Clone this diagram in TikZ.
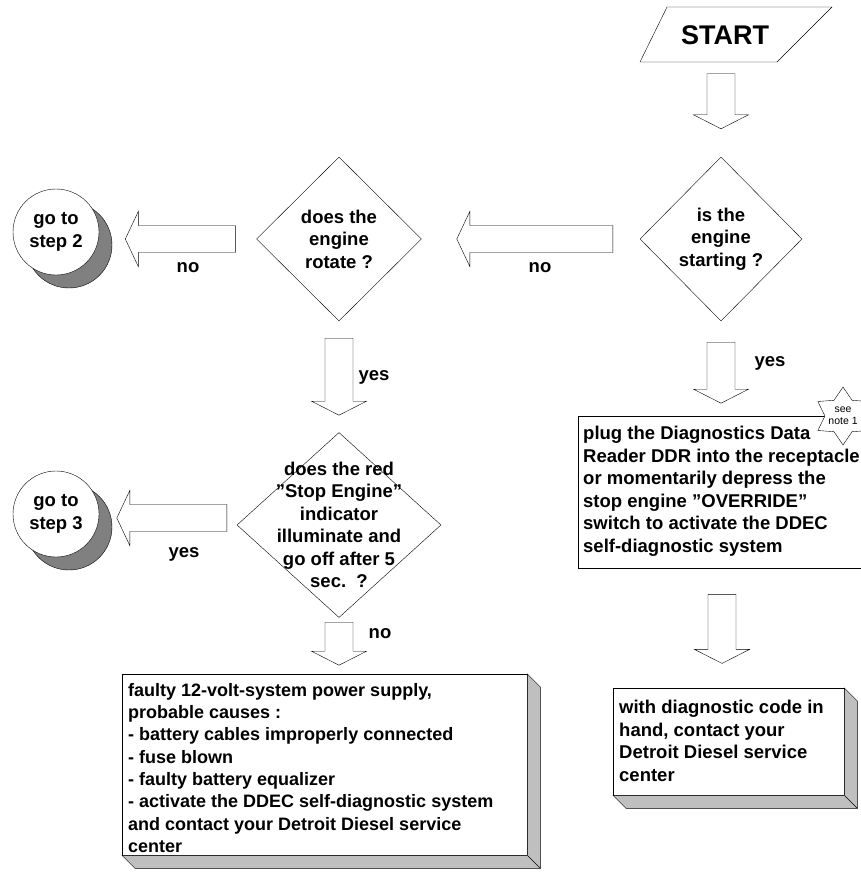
\documentclass[tikz,border=0pt]{standalone}
\usepackage{fontspec}
\setmainfont{Liberation Sans}
\usetikzlibrary{shapes.geometric,calc}

\newcommand\boxshade[1]{%
  \draw[shade] (#1.north east) -- ++(13,13) -- ($(#1.south east)+(13,13)$) -- ($(#1.south west)+(13,13)$) -- (#1.south west) -- (#1.south east) -- cycle;
  \draw (#1.south east) -- ++(13,13);}

\begin{document}
\begin{tikzpicture}[x=1pt,y=-1pt,
  txt/.style={font=\bfseries\fontsize{18.5}{22.5}\selectfont, inner sep=0pt},
  box/.style={draw, fill=white, inner sep=0pt},
  shade/.style={draw, fill=black!25},
  dia/.style={diamond, draw, inner sep=0pt},
  goto/.style={circle, draw, fill=white, minimum size=86, txt, align=center},
  blk/.style={draw, fill=white, line join=miter},
  pics/downarr/.style={code={\draw[blk] (-14,0) -- (14,0) -- (14,#1-14) -- (27.5,#1-14) -- (0,#1) -- (-27.5,#1-14) -- (-14,#1-14) -- cycle;}},
  pics/leftarr/.style={code={\draw[blk] (0,-13.5) -- (0,13.5) -- (-#1+13,13.5) -- (-#1+13,27.5) -- (-#1,0) -- (-#1+13,-27.5) -- (-#1+13,-13.5) -- cycle;}},
]
  \useasboundingbox (0,0) rectangle (861,880);
  \clip (0,0) rectangle (861,880);

  % start
  \draw (640,62) -- (667,7) -- (832,7) -- (777,62) -- cycle;
  \node[txt, font=\bfseries\fontsize{27}{30}\selectfont] (start) at (725,35) {START};

  % questions
  \node[dia, minimum width=162, minimum height=164,
    label={[txt, align=center]center:is the\\engine\\starting ?}] (q1) at (721,239) {};
  \node[dia, minimum width=165, minimum height=164,
    label={[txt, align=center]center:does the\\engine\\rotate ?}] (q2) at (339,239) {};
  \node[dia, minimum width=204, minimum height=185,
    label={[txt, align=center]center:does the red\\"Stop Engine"\\indicator\\illuminate and\\go off after 5\\sec.~~?}] (q3) at (339,525) {};

  % go to
  \draw[fill=black!50] (69,245) circle (43);
  \node[goto] (g2) at (56,232) {go to\\step 2};
  \draw[fill=black!50] (69,527) circle (43);
  \node[goto] (g3) at (56,514) {go to\\step 3};

  % actions
  \node[box, minimum width=300, minimum height=152, anchor=north west] (plug) at (578,416) {};
  \node[txt, anchor=north west, align=left] (plugtext) at ($(plug.north west)+(5,10)$)
    {plug the Diagnostics Data\\Reader DDR into the receptacle\\or momentarily depress the\\stop engine "OVERRIDE"\\switch to activate the DDEC\\self-diagnostic system};
  \node[star, star points=6, star point ratio=1.6, draw, fill=white, minimum size=58, inner sep=0pt] (note) at (843,416) {};
  \node[font=\fontsize{10.5}{12}\selectfont, align=center] (notetext) at (note) {see\\note 1};

  \node[box, minimum width=231, minimum height=107, anchor=north west] (code) at (613,688) {};
  \boxshade{code}
  \node[txt, anchor=north west, align=left] (codetext) at ($(code.north west)+(6,12)$)
    {with diagnostic code in\\hand, contact your\\Detroit Diesel service\\center};

  \node[box, minimum width=405, minimum height=181, anchor=north west] (fault) at (122,674) {};
  \boxshade{fault}
  \node[txt, anchor=north west, align=left, font=\bfseries\fontsize{18}{22.3}\selectfont] (faulttext) at ($(fault.north west)+(6,9)$)
    {faulty 12-volt-system power supply,\\probable causes :\\- battery cables improperly connected\\- fuse blown\\- faulty battery equalizer\\- activate the DDEC self-diagnostic system\\and contact your Detroit Diesel service\\center};

  % arrows
  \pic at ($(q1.north)+(0,-83)$) {downarr=55};
  \pic at ($(q1.west)+(-27,0)$) {leftarr=156};
  \pic at ($(q2.west)+(-21,0)$) {leftarr=110};
  \pic at ($(q2.south)+(0,17)$) {downarr=77};
  \pic at ($(q3.west)+(-10,-7)$) {leftarr=110};
  \pic at ($(q3.south)+(0,4.5)$) {downarr=43};
  \pic at ($(q1.south)+(0,21)$) {downarr=61};
  \pic at ($(plug.south west)+(144,26)$) {downarr=69};

  % answers
  \node[txt] (no1) at (540,268) {no};
  \node[txt] (no2) at (188,268) {no};
  \node[txt] (yes1) at (770,363) {yes};
  \node[txt] (yes2) at (374,377) {yes};
  \node[txt] (yes3) at (184,554) {yes};
  \node[txt] (no3) at (380,634) {no};
\end{tikzpicture}
\end{document}
